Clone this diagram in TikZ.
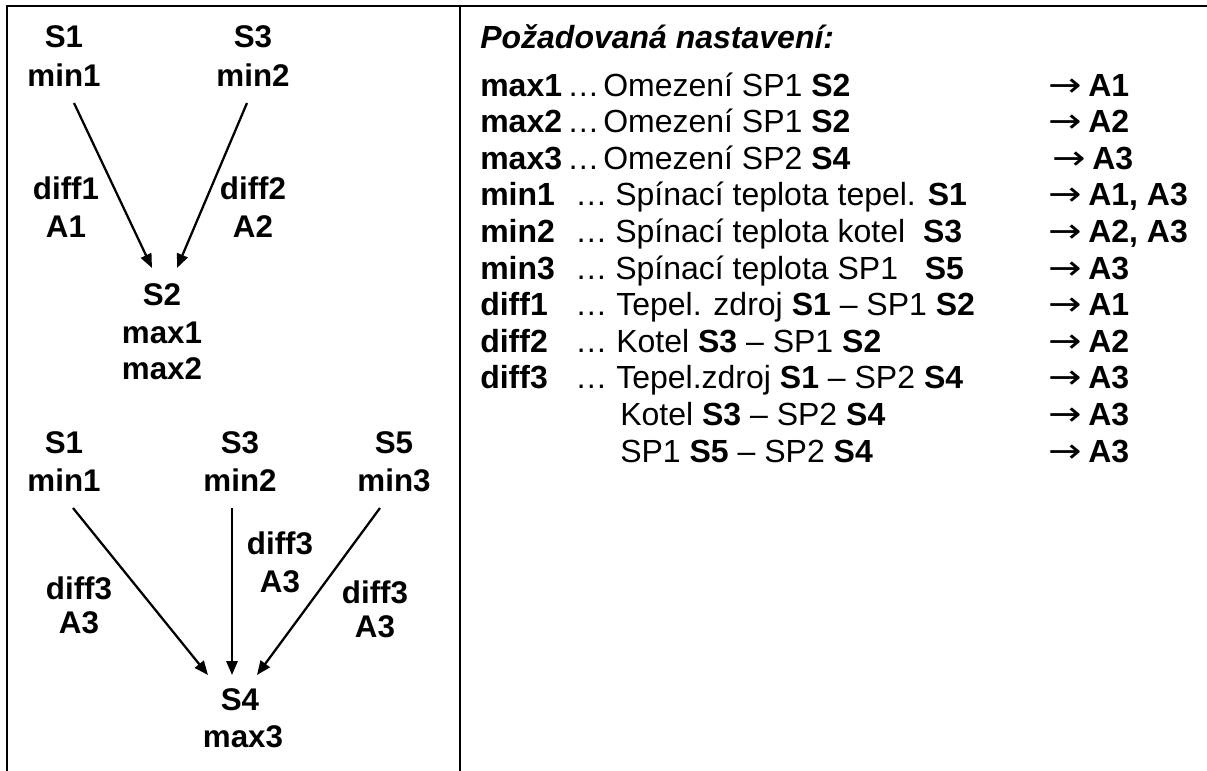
\documentclass[tikz,border=0pt]{standalone}
\usepackage{fontspec}
\setmainfont{Liberation Sans}
\newfontfamily\arrfont{DejaVu Sans}
\newcommand{\rgtarr}{\scalebox{1.5}[1.25]{\arrfont →}}
\usetikzlibrary{arrows.meta,calc}
\begin{document}
\begin{tikzpicture}[x=0.75pt,y=-0.75pt,
  lbl/.style={font=\fontsize{23.5}{28}\selectfont\bfseries, inner sep=0pt, anchor=center},
  txt/.style={font=\fontsize{24}{28}\selectfont, inner sep=0pt, anchor=base west},
  btxt/.style={font=\fontsize{24}{28}\selectfont\bfseries, inner sep=0pt, anchor=base west},
  ttl/.style={font=\fontsize{24}{28}\selectfont\bfseries\itshape, inner sep=0pt, anchor=base west},
  rarr/.style={font=\fontsize{20}{28}\selectfont, inner sep=0pt, anchor=base west},
  arr/.style={line width=1.7pt, -{Triangle[length=10.5pt,width=8.5pt]}},
  frm/.style={line width=1.5pt}]
\useasboundingbox (0,0) rectangle (1207,771);
% frame
\draw[frm] (7,771) -- (7,6) -- (1207,6);
\draw[frm] (460,6) -- (460,771);
% top diagram
\node[lbl] (tS1) at (64,37) {S1};
\node[lbl] (tmin1) at (64,75) {min1};
\node[lbl] (tS3) at (253,37) {S3};
\node[lbl] (tmin2) at (253,75) {min2};
\node[lbl] (tdiff1) at (66,188) {diff1};
\node[lbl] (tA1) at (66,227) {A1};
\node[lbl] (tdiff2) at (253,188) {diff2};
\node[lbl] (tA2) at (253,227) {A2};
\node[lbl] (tS2) at (162,295) {S2};
\node[lbl] (tmax1) at (162,333) {max1};
\node[lbl] (tmax2) at (162,369) {max2};
\draw[arr] ($(tmin1)+(10,28)$) -- ($(tS2)+(-10,-27)$);
\draw[arr] ($(tmin2)+(-6,28)$) -- ($(tS2)+(15,-27)$);
% bottom diagram
\node[lbl] (bS1) at (64,443) {S1};
\node[lbl] (bmin1) at (64,480) {min1};
\node[lbl] (bS3) at (240,443) {S3};
\node[lbl] (bmin2) at (240,480) {min2};
\node[lbl] (bS5) at (394,443) {S5};
\node[lbl] (bmin3) at (394,480) {min3};
\node[lbl] (ldiff) at (79,588) {diff3};
\node[lbl] (lA3) at (79,623) {A3};
\node[lbl] (mdiff) at (280,543) {diff3};
\node[lbl] (mA3) at (280,582) {A3};
\node[lbl] (rdiff) at (375,592) {diff3};
\node[lbl] (rA3) at (375,627) {A3};
\node[lbl] (bS4) at (240,700) {S4};
\node[lbl] (bmax3) at (243,737) {max3};
\draw[arr] ($(bmin1)+(9,28)$) -- ($(bS4)+(-32,-25)$);
\draw[arr] ($(bmin2)+(-8,28)$) -- ($(bS4)+(-8,-25)$);
\draw[arr] ($(bmin3)+(-14,28)$) -- ($(bS4)+(17,-25)$);
% right table
\node[ttl] (title) at (480,48) {Požadovaná nastavení:};
\foreach \i/\lab/\dx/\desc/\tx/\ax/\res in {
  1/max1/567/{Omezení SP1 \textbf{S2}}/603/1048/{A1},
  2/max2/567/{Omezení SP1 \textbf{S2}}/603/1048/{A2},
  3/max3/567/{Omezení SP2 \textbf{S4}}/603/1052/{A3},
  4/min1/575/{Spínací teplota tepel. \textbf{S1}}/615/1048/{A1, A3},
  5/min2/575/{Spínací teplota kotel\ \ \textbf{S3}}/615/1048/{A2, A3},
  6/min3/575/{Spínací teplota SP1\ \ \ \textbf{S5}}/615/1048/{A3},
  7/diff1/575/{Tepel. zdroj \textbf{S1} – SP1 \textbf{S2}}/616/1048/{A1},
  8/diff2/575/{Kotel \textbf{S3} – SP1 \textbf{S2}}/616/1048/{A2},
  9/diff3/575/{Tepel.zdroj \textbf{S1} – SP2 \textbf{S4}}/616/1048/{A3}}{
  \pgfmathsetmacro{\yy}{96+36.6*(\i-1)}
  \node[btxt] (lab\i) at (480,\yy) {\lab};
  \node[txt] (dots\i) at (\dx,\yy) {…};
  \node[txt] (desc\i) at (\tx,\yy) {\desc};
  \node[rarr] (arw\i) at (\ax,\yy) {\rgtarr};
  \node[btxt] (res\i) at ($(\ax,\yy)+(40,0)$) {\res};
}
\node[txt] (desc10) at (620,425.4) {Kotel \textbf{S3} – SP2 \textbf{S4}};
\node[rarr] (arw10) at (1048,425.4) {\rgtarr};
\node[btxt] (res10) at (1088,425.4) {A3};
\node[txt] (desc11) at (620,462) {SP1 \textbf{S5} – SP2 \textbf{S4}};
\node[rarr] (arw11) at (1048,462) {\rgtarr};
\node[btxt] (res11) at (1088,462) {A3};
\end{tikzpicture}
\end{document}
